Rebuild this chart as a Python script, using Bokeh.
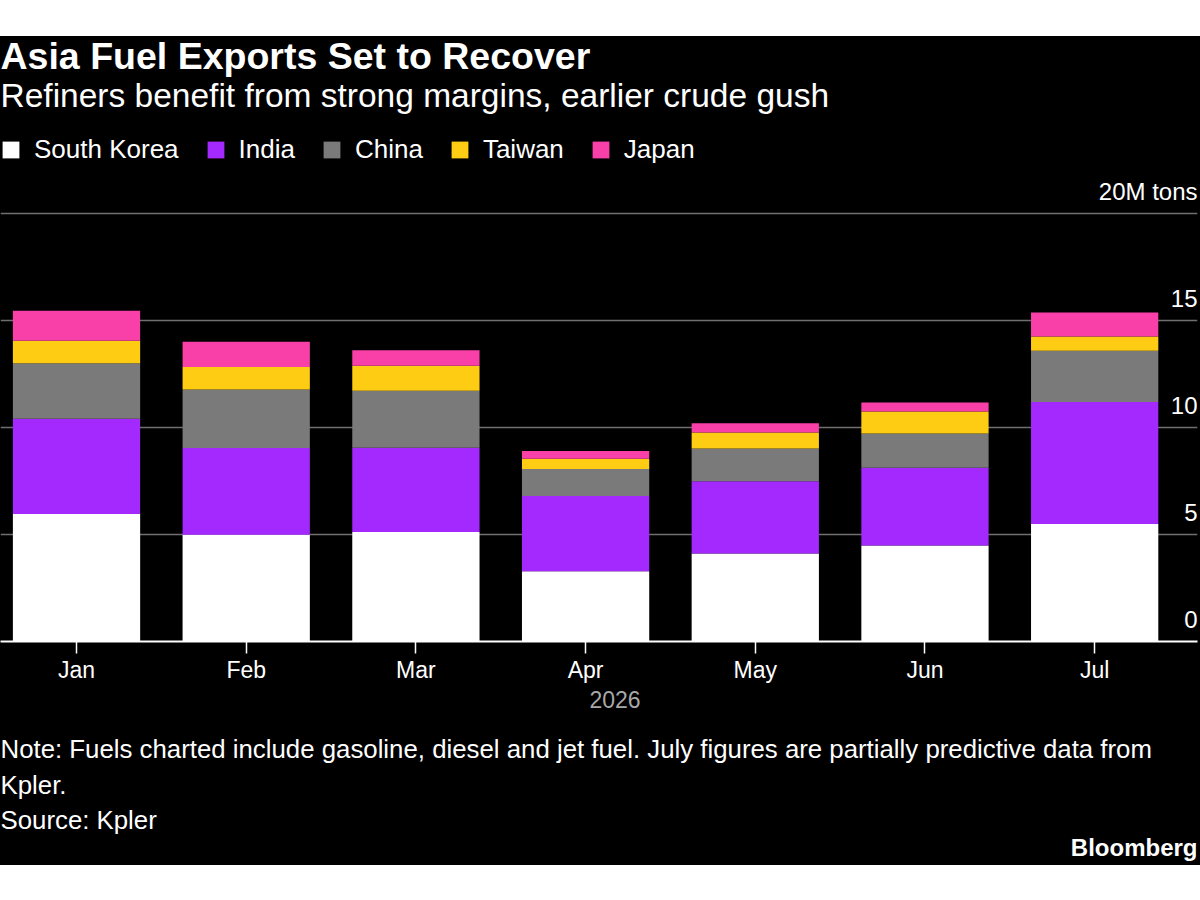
from bokeh.plotting import figure
from bokeh.models import ColumnDataSource, Range1d, FixedTicker, Label, Spacer
from bokeh.layouts import column
from bokeh.core.properties import value
from bokeh.embed import file_html
from bokeh.resources import INLINE

# Monthly fuel exports, million tons
months = ["Jan", "Feb", "Mar", "Apr", "May", "Jun", "Jul"]
south_korea = [5.96, 4.99, 5.12, 3.28, 4.12, 4.49, 5.49]
india = [4.46, 4.06, 3.94, 3.52, 3.37, 3.64, 5.71]
china = [2.59, 2.73, 2.66, 1.27, 1.54, 1.60, 2.40]
taiwan = [1.05, 1.06, 1.17, 0.48, 0.74, 1.03, 0.66]
japan = [1.41, 1.18, 0.73, 0.36, 0.43, 0.42, 1.12]

countries = ["South Korea", "India", "China", "Taiwan", "Japan"]
colors = ["#ffffff", "#a429fe", "#7a7a7a", "#fecc12", "#f93fa8"]

y_ticks = [0, 5, 10, 15, 20]
y_tick_labels = ["0", "5", "10", "15", "20M tons"]

FONT = "Liberation Sans"

source = ColumnDataSource(dict(
    x=list(range(len(months))),
    **{"South Korea": south_korea, "India": india, "China": china,
       "Taiwan": taiwan, "Japan": japan},
))

# --- main chart: header text, stacked bars, month axis -------------------
p = figure(width=1200, height=650, output_backend="svg", toolbar_location=None,
           x_range=Range1d(-0.448, 6.606), y_range=Range1d(0, 28.29),
           min_border_left=0, min_border_right=3, min_border_top=0,
           min_border_bottom=45)
p.title = None
p.background_fill_color = "black"
p.border_fill_color = "black"
p.outline_line_color = None

# pixel-space ranges for header text
p.extra_x_ranges = {"page": Range1d(0, 1197)}
p.extra_y_ranges = {"page": Range1d(641, 36)}

p.vbar_stack(countries, x="x", width=0.75, color=colors, line_color=None,
             source=source, legend_label=countries)

p.yaxis.visible = False
p.xaxis.ticker = FixedTicker(ticks=list(range(len(months))))
p.xaxis.major_label_overrides = {i: m for i, m in enumerate(months)}
p.xaxis.axis_line_color = "white"
p.xaxis.axis_line_width = 2
p.xaxis.major_tick_line_color = "white"
p.xaxis.major_tick_line_width = 1.5
p.xaxis.major_tick_out = 12
p.xaxis.major_tick_in = 0
p.xaxis.minor_tick_line_color = None
p.xaxis.major_label_text_color = "white"
p.xaxis.major_label_text_font = FONT
p.xaxis.major_label_text_font_size = "23px"
p.xaxis.major_label_standoff = 3

p.xgrid.visible = False
p.ygrid.ticker = FixedTicker(ticks=y_ticks)
p.ygrid.grid_line_color = "#6f6f6f"
p.ygrid.grid_line_width = 1.5

# value labels sitting just above each gridline, right aligned
p.text(x=[6.606] * len(y_ticks), y=y_ticks, text=y_tick_labels,
       text_align="right", text_baseline="alphabetic", y_offset=-22.5,
       text_color="white", text_font=value(FONT), text_font_size="24px")

lg = p.legend[0]
lg.orientation = "horizontal"
lg.location = (0, 476)
lg.glyph_width = 21
lg.glyph_height = 21
lg.label_standoff = 13
lg.spacing = 26
lg.padding = 0
lg.margin = 0
lg.background_fill_alpha = 0
lg.border_line_color = None
lg.label_text_color = "white"
lg.label_text_font = FONT
lg.label_text_font_size = "26px"


def page_label(fig, x, y, text, size, bold=False, color="white", align="left"):
    fig.add_layout(Label(x=x, y=y, text=text, x_range_name="page",
                         y_range_name="page", text_align=align,
                         text_baseline="alphabetic", text_color=color,
                         text_font=FONT, text_font_size=size,
                         text_font_style="bold" if bold else "normal"))


page_label(p, 0, 55, "Asia Fuel Exports Set to Recover", "37.5px", bold=True)
page_label(p, 0, 94.5, "Refiners benefit from strong margins, earlier crude gush", "33.5px")

# --- footer: axis caption, note, source, brand ----------------------------
f = figure(width=1200, height=179, output_backend="svg", toolbar_location=None,
           x_range=Range1d(0, 1200), y_range=Range1d(0, 1),
           min_border=0)
f.title = None
f.axis.visible = False
f.grid.visible = False
f.background_fill_color = "black"
f.border_fill_color = "black"
f.outline_line_color = None
f.extra_x_ranges = {"page": Range1d(0, 1200)}
f.extra_y_ranges = {"page": Range1d(865, 686)}

page_label(f, 616, 699, "2026", "23px", color="#a8a8a8", align="center")
page_label(f, 0, 748, "Note: Fuels charted include gasoline, diesel and jet fuel. "
           "July figures are partially predictive data from", "25.8px")
page_label(f, 0, 784, "Kpler.", "25.8px")
page_label(f, 0, 819, "Source: Kpler", "25.8px")
page_label(f, 1200, 847, "Bloomberg", "24px", bold=True, align="right")

layout = column(Spacer(width=1200, height=36, styles={"background-color": "white"}),
                p, f, spacing=0, styles={"background-color": "black"})

open("out.html", "w").write(file_html(layout, INLINE))
